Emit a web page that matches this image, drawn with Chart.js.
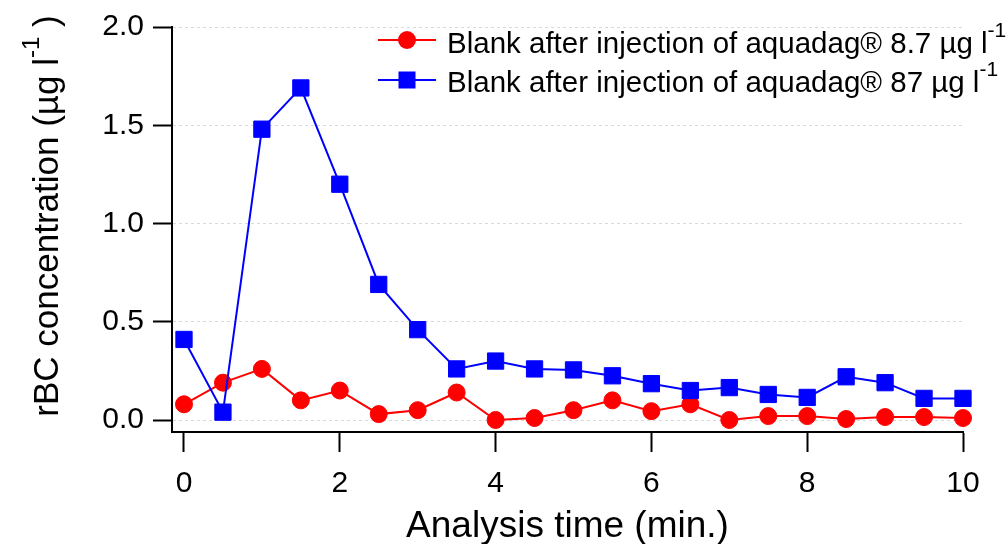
<!DOCTYPE html>
<html>
<head>
<meta charset="utf-8">
<script src="https://cdn.jsdelivr.net/npm/chart.js@4.4.0/dist/chart.umd.min.js"></script>
<style>
  html, body { margin: 0; padding: 0; background: #fff; }
  #caixa { width: 1006px; height: 544px; }
</style>
</head>
<body>
<div id="caixa"><canvas id="graficoBlank"></canvas></div>
<script>
// tempo de análise (min.)
const tempos = [0, 0.5, 1, 1.5, 2, 2.5, 3, 3.5, 4, 4.5, 5, 5.5, 6, 6.5, 7, 7.5, 8, 8.5, 9, 9.5, 10];
// rBC (µg l-1) após injeção de aquadag 8.7 µg l-1
const blank8_7 = [0.08, 0.19, 0.26, 0.10, 0.15, 0.03, 0.05, 0.14, 0.00, 0.01, 0.05, 0.10, 0.045, 0.08, 0.00, 0.02, 0.02, 0.005, 0.015, 0.015, 0.01];
// rBC (µg l-1) após injeção de aquadag 87 µg l-1
const blank87 = [0.41, 0.04, 1.48, 1.69, 1.20, 0.69, 0.46, 0.26, 0.30, 0.26, 0.255, 0.225, 0.185, 0.15, 0.165, 0.13, 0.115, 0.22, 0.19, 0.11, 0.11];
const ticksX = [0, 2, 4, 6, 8, 10];
const ticksY = [0, 0.5, 1.0, 1.5, 2.0];
const rotulos = ["Blank after injection of aquadag® 8.7 µg l", "Blank after injection of aquadag® 87 µg l"];
const tituloX = "Analysis time (min.)";
const tituloY = "rBC concentration (µg l";

const fonte = "'Liberation Sans', Arial, sans-serif";

// texto com expoente "-1"
function textoExpoente(ctx, partes, x, y, alinhar) {
  let total = 0;
  partes.forEach((p) => {
    ctx.font = p.tam + "px " + fonte;
    p.w = ctx.measureText(p.t).width;
    total += p.w;
  });
  let cx = alinhar === "center" ? x - total / 2 : x;
  partes.forEach((p) => {
    ctx.font = p.tam + "px " + fonte;
    ctx.fillText(p.t, cx, y - (p.sobe || 0));
    cx += p.w;
  });
}

const legendaPropria = {
  id: "legendaPropria",
  afterDraw(chart) {
    const ctx = chart.ctx;
    ctx.save();
    ctx.textAlign = "left";
    ctx.textBaseline = "alphabetic";
    ctx.fillStyle = "#000";
    const linhas = [
      { cor: "#ff0000", forma: "circulo", y: 40, base: 53 },
      { cor: "#0000ff", forma: "quadrado", y: 80, base: 92 },
    ];
    linhas.forEach((l, i) => {
      ctx.strokeStyle = l.cor;
      ctx.lineWidth = 2;
      ctx.beginPath();
      ctx.moveTo(378, l.y);
      ctx.lineTo(436, l.y);
      ctx.stroke();
      ctx.fillStyle = l.cor;
      if (l.forma === "circulo") {
        ctx.beginPath();
        ctx.arc(407, l.y, 9, 0, Math.PI * 2);
        ctx.fill();
      } else {
        ctx.fillRect(407 - 8.5, l.y - 8.5, 17, 17);
      }
      ctx.fillStyle = "#000";
      textoExpoente(ctx, [
        { t: rotulos[i], tam: 29.5 },
        { t: "-1", tam: 21, sobe: 16 },
      ], 447, l.base, "left");
    });

    // título do eixo y
    ctx.translate(58, 216);
    ctx.rotate(-Math.PI / 2);
    textoExpoente(ctx, [
      { t: tituloY, tam: 35 },
      { t: "-1", tam: 24, sobe: 19 },
      { t: " )", tam: 35 },
    ], 0, 0, "center");
    ctx.restore();
  },
};

new Chart(document.getElementById("graficoBlank"), {
  type: "line",
  data: {
    labels: tempos,
    datasets: [
      {
        label: rotulos[0],
        data: tempos.map((t, i) => ({ x: t, y: blank8_7[i] })),
        borderColor: "#ff0000",
        backgroundColor: "#ff0000",
        borderWidth: 2,
        pointStyle: "circle",
        pointRadius: 8.5,
        pointBorderWidth: 1,
        tension: 0,
        clip: false,
        order: 2,
      },
      {
        label: rotulos[1],
        data: tempos.map((t, i) => ({ x: t, y: blank87[i] })),
        borderColor: "#0000ff",
        backgroundColor: "#0000ff",
        borderWidth: 2,
        pointStyle: "rect",
        pointRadius: 11.5,
        pointBorderWidth: 1,
        tension: 0,
        clip: false,
        order: 1,
      },
    ],
  },
  options: {
    responsive: true,
    maintainAspectRatio: false,
    animation: false,
    events: [],
    layout: { padding: { top: 27, right: 43, left: 0, bottom: 0 } },
    plugins: { legend: { display: false }, tooltip: { enabled: false } },
    scales: {
      x: {
        type: "linear",
        min: -0.154,
        max: 10,
        afterBuildTicks: (s) => { s.ticks = ticksX.map((v) => ({ value: v })); },
        afterFit: (s) => { s.height = 112; },
        grid: {
          drawOnChartArea: false,
          drawTicks: true,
          tickLength: 20,
          tickColor: "#000",
          tickWidth: 2,
        },
        border: { display: true, color: "#000", width: 2 },
        ticks: {
          color: "#000",
          padding: 14,
          maxRotation: 0,
          font: { family: fonte, size: 30 },
        },
        title: {
          display: true,
          text: tituloX,
          color: "#000",
          font: { family: fonte, size: 37 },
          padding: { top: 0, bottom: -5 },
        },
      },
      y: {
        type: "linear",
        min: -0.061,
        max: 2.0,
        afterBuildTicks: (s) => { s.ticks = ticksY.map((v) => ({ value: v })); },
        afterFit: (s) => { s.width = 172; },
        grid: {
          drawOnChartArea: true,
          color: "#d9d9d9",
          lineWidth: 1,
          drawTicks: true,
          tickLength: 19,
          tickColor: "#000",
          tickWidth: 2,
          tickBorderDash: [],
        },
        border: { display: true, color: "#000", width: 2, dash: [3, 3] },
        ticks: {
          color: "#000",
          padding: 9,
          font: { family: fonte, size: 30 },
          callback: (v) => v.toFixed(1),
        },
      },
    },
  },
  plugins: [legendaPropria],
});
</script>
</body>
</html>
